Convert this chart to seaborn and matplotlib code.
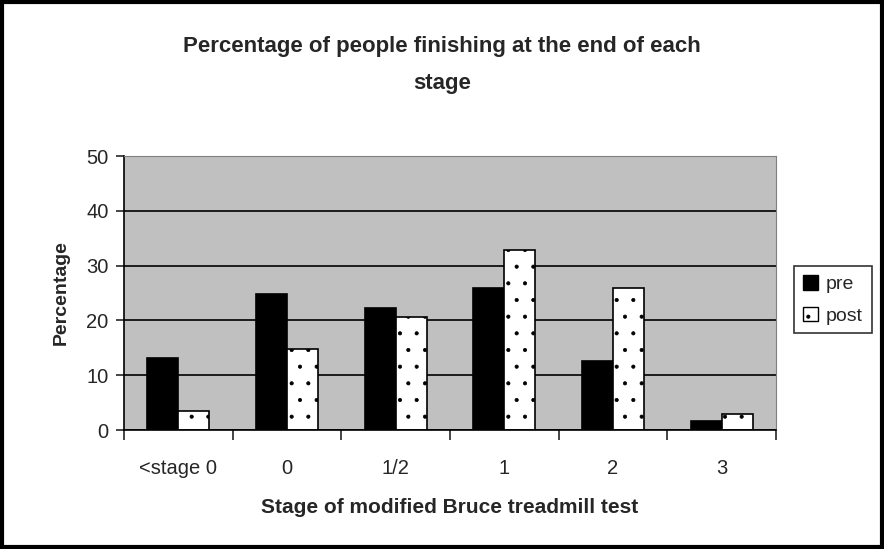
import matplotlib
matplotlib.use("Agg")
import matplotlib.pyplot as plt
import numpy as np
import pandas as pd
import seaborn as sns

# data
stages = ["<stage 0", "0", "1/2", "1", "2", "3"]
pre = [13.2, 24.8, 22.3, 26.0, 12.6, 1.6]
post = [3.5, 14.8, 20.7, 32.8, 26.0, 2.9]
y_ticks = [0, 10, 20, 30, 40, 50]

df = pd.DataFrame({
    "stage": stages * 2,
    "value": pre + post,
    "group": ["pre"] * len(stages) + ["post"] * len(stages),
})

sns.set_style("white")
plt.rcParams['font.family'] = ['Liberation Sans', 'DejaVu Sans']
plt.rcParams['hatch.color'] = '#444444'
plt.rcParams['hatch.linewidth'] = 0.5

fig = plt.figure(figsize=(8.84, 5.49), dpi=100)
ax = fig.add_axes([124 / 884, 1 - 430 / 549, 652 / 884, 274 / 549])

sns.barplot(data=df, x="stage", y="value", hue="group", order=stages,
            hue_order=["pre", "post"], palette=["black", "white"],
            width=0.57, gap=0, edgecolor="black", linewidth=1.2,
            saturation=1, ax=ax, legend=False)

n = len(stages)
for i, bar in enumerate(ax.patches[:2 * n]):
    if i >= n:
        bar.set_hatch(".")
        bar.set_facecolor("white")
        bar.set_edgecolor("black")

ax.set_facecolor("#C0C0C0")
ax.set_ylim(0, 50)
ax.set_xlim(-0.5, n - 0.5)
ax.set_yticks(y_ticks)
ax.yaxis.grid(True, color="black", linewidth=1.2)
ax.set_axisbelow(True)

for s in ["top", "right"]:
    ax.spines[s].set_color("#808080")
for s in ["left", "bottom"]:
    ax.spines[s].set_color("black")
    ax.spines[s].set_linewidth(1.2)

ax.tick_params(axis="y", which="major", left=True, length=6, width=1.2,
               labelsize=14.5, pad=5)
ax.tick_params(axis="x", which="major", length=0, labelsize=14.5, pad=21)
ax.set_xticks(np.arange(-0.5, n), minor=True)
ax.tick_params(axis="x", which="minor", bottom=True, length=7, width=1.2)

ax.set_xlabel("Stage of modified Bruce treadmill test", fontsize=15,
              fontweight="bold", labelpad=14)
ax.set_ylabel("Percentage", fontsize=14, fontweight="bold", labelpad=12)

fig.text(0.5, 1 - 65 / 549, "Percentage of people finishing at the end of each\nstage",
         ha="center", va="center", fontsize=16, fontweight="bold",
         linespacing=2.0)

handles = [plt.Rectangle((0, 0), 1, 1, facecolor="black", edgecolor="black"),
           plt.Rectangle((0, 0), 1, 1, facecolor="white", edgecolor="black",
                         hatch=".")]
leg = fig.legend(handles, ["pre", "post"], loc="upper left",
                 bbox_to_anchor=(794 / 884, 1 - 266 / 549), fontsize=14,
                 frameon=True, fancybox=False, edgecolor="black",
                 handlelength=0.8, handleheight=0.8, handletextpad=0.4,
                 borderpad=0.45, labelspacing=0.7, borderaxespad=0)
leg.get_frame().set_linewidth(1.2)

# outer black frame
fig.patches.append(plt.Rectangle((0.002, 0.003), 0.996, 0.994,
                                 transform=fig.transFigure, fill=False,
                                 edgecolor="black", linewidth=3))

fig.savefig("out.png", dpi=100)
